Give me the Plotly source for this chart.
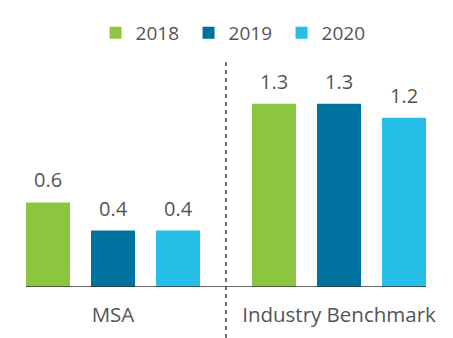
import plotly.graph_objects as go

categories = ["MSA", "Industry Benchmark"]
years = ["2018", "2019", "2020"]
values_2018 = [0.6, 1.3]
values_2019 = [0.4, 1.3]
values_2020 = [0.4, 1.2]

colors = {"2018": "#8cc540", "2019": "#00729f", "2020": "#27bfe8"}
series = {"2018": values_2018, "2019": values_2019, "2020": values_2020}

FONT = "Open Sans"
TEXT = "#555555"

W, H = 453, 338
MB = 51
MR = 1
plot_h = H - MB
plot_w = W - MR
px_per_unit = 141

bargap = 0.137
groupgap = 0.323
slot = (1 - bargap) / 3
cat_px = plot_w / 2  # pixels per category

fig = go.Figure()
for i, yr in enumerate(years):
    fig.add_trace(go.Bar(
        name=yr,
        x=categories,
        y=series[yr],
        marker=dict(color=colors[yr], line=dict(width=0)),
        cliponaxis=False,
    ))
    # value labels above each bar
    for cat, val in zip(categories, series[yr]):
        fig.add_annotation(
            x=cat, y=val, xref="x", yref="y",
            text=f"{val:.1f}", showarrow=False,
            xshift=(i - 1) * slot * cat_px, yshift=7,
            yanchor="bottom", xanchor="center",
            font=dict(family=FONT, size=20, color=TEXT),
        )

# baseline under the bars
half_span = 1.5 * slot - slot * groupgap / 2
fig.add_shape(type="line", xref="x", yref="y",
              x0=-half_span, x1=1 + half_span, y0=0, y1=0,
              line=dict(color="#333333", width=1.5))

# dashed divider between the two groups
fig.add_shape(type="line", xref="paper", yref="paper",
              x0=0.5, x1=0.5, y0=-MB / plot_h, y1=1 - 60 / plot_h,
              line=dict(color="#444444", width=1.5, dash="4px,4px"))

fig.update_layout(
    width=W, height=H,
    margin=dict(l=0, r=MR, t=0, b=MB),
    paper_bgcolor="white", plot_bgcolor="white",
    barmode="group", bargap=bargap, bargroupgap=groupgap,
    font=dict(family=FONT, color=TEXT),
    showlegend=True,
    legend=dict(orientation="h", x=0.52, xanchor="center",
                y=1 - 33 / plot_h, yanchor="middle",
                font=dict(family=FONT, size=19, color=TEXT),
                entrywidth=48, entrywidthmode="pixels",
                bgcolor="rgba(0,0,0,0)"),
    xaxis=dict(range=[-0.5, 1.5], showgrid=False, zeroline=False,
               showline=False, ticks="", ticklabelstandoff=13,
               tickfont=dict(family=FONT, size=20.5, color=TEXT)),
    yaxis=dict(range=[0, plot_h / px_per_unit], visible=False),
)

fig.write_html("out.html")
